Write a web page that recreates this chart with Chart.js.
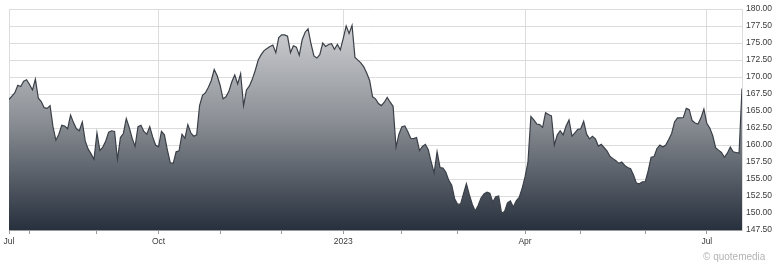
<!DOCTYPE html>
<html lang="en">
<head>
    <meta charset="UTF-8">
    <title>Price Chart</title>
    <script src="https://cdn.jsdelivr.net/npm/chart.js"></script>
    <style>
        body {
            margin: 0;
            background: #ffffff;
        }
        .wrap {
            position: relative;
            width: 780px;
            height: 266px;
        }
        /* watermark bottom right */
        .credit {
            position: absolute;
            left: 703px;
            top: 251px;
            font-family: "Liberation Sans", Arial, sans-serif;
            font-size: 10px;
            color: #b4b4b4;
        }
    </style>
</head>
<body>

<div class="wrap">
    <canvas id="priceChart" width="780" height="266"></canvas>
    <div class="credit">© quotemedia</div>
</div>

<script>
    // daily closes, Jul 2022 - Jul 2023 (one value per trading day)
    const prices = [
        166.7, 167.2, 167.7, 168.8, 168.6, 169.4, 169.6, 168.9, 168.1, 169.7,
        166.9, 166.4, 165.5, 165.4, 165.8, 162.7, 160.7, 161.6, 162.9, 162.8,
        162.4, 164.4, 163.3, 162.4, 162.1, 163.4, 160.6, 159.4, 158.7, 157.9,
        161.8, 159.2, 159.7, 160.6, 161.9, 162.1, 162.0, 157.9, 161.1, 161.7,
        163.9, 162.6, 161.0, 159.8, 162.7, 162.9, 162.0, 161.6, 162.7, 161.2,
        160.0, 159.75, 162.0, 161.5, 159.3, 157.4, 157.3, 159.0, 159.15, 161.6,
        161.0, 163.0, 161.8, 161.3, 161.5, 165.8, 167.3, 167.7, 168.5, 169.5,
        171.1, 170.2, 168.8, 166.8, 167.1, 167.9, 169.3, 170.3, 169.0, 170.5,
        165.8, 168.1, 168.7, 169.7, 171.0, 172.5, 173.3, 173.9, 174.2, 174.5,
        174.7, 173.6, 175.8, 176.2, 176.2, 176.0, 173.6, 174.6, 174.4, 173.2,
        175.5, 176.6, 177.1, 174.9, 173.1, 172.8, 173.3, 175.0, 174.5, 174.8,
        174.9, 174.1, 174.8, 174.0, 175.7, 177.5, 176.4, 177.6, 172.9, 172.5,
        172.1, 171.5, 170.6, 169.5, 167.1, 166.8, 166.1, 165.8, 166.3, 167.0,
        166.3, 165.7, 159.7, 161.6, 162.7, 162.8, 162.0, 161.0, 160.95, 161.1,
        159.2, 159.8, 160.1, 159.3, 157.5, 155.9, 159.0, 156.7, 156.6, 156.0,
        154.8, 154.1, 152.1, 151.3, 151.3, 152.8, 154.3, 152.7, 151.3, 150.3,
        151.1, 152.2, 152.8, 153.05, 152.9, 151.6, 152.4, 152.5, 150.0, 150.2,
        151.5, 151.8, 150.9, 151.8, 152.3, 153.6, 155.3, 157.5, 164.2, 163.7,
        163.1, 163.0, 162.6, 164.75, 164.5, 164.3, 160.0, 161.5, 162.1, 161.5,
        162.8, 163.7, 161.3, 161.8, 162.3, 162.4, 163.5, 161.6, 160.9, 161.3,
        160.9, 159.85, 160.1, 159.6, 159.1, 158.3, 158.0, 157.7, 157.3, 157.5,
        157.0, 156.7, 156.5, 155.6, 154.4, 154.3, 154.6, 154.6, 156.2, 158.2,
        158.3, 159.5, 160.0, 159.7, 160.0, 160.8, 161.7, 163.4, 164.0, 164.0,
        164.05, 165.4, 165.2, 163.6, 163.25, 163.1, 164.0, 165.3, 163.2, 162.5,
        161.4, 159.6, 159.25, 158.9, 158.2, 158.8, 159.7, 159.0, 158.9, 158.8,
        168.3
    ];

    // month starts, as trading-day index into prices
    const monthStarts = [0, 7, 30, 51, 72, 93, 114, 134, 153, 176, 195, 217, 238];
    const monthLabels = ['Jul', '', '', 'Oct', '', '', '2023', '', '', 'Apr', '', '', 'Jul'];

    const yMin = 147.5;
    const yMax = 180;
    const yStep = 2.5;

    const labelFont = { family: '"Liberation Sans", Arial, sans-serif', size: 8.5 };

    let points = prices.map((p, i) => ({ x: i, y: p }));

    function isMajor(ctx) {
        if (!ctx.tick) return false;
        let k = monthStarts.indexOf(ctx.tick.value);
        return k >= 0 && monthLabels[k] !== '';
    }

    let ctx = document.getElementById('priceChart').getContext('2d');

    let priceChart = new Chart(ctx, {
        type: 'line',
        data: {
            datasets: [{
                data: points,
                borderColor: '#3b4048',
                borderWidth: 1.2,
                pointRadius: 0,
                tension: 0,
                fill: 'start',
                backgroundColor: function(context) {
                    let area = context.chart.chartArea;
                    if (!area) return '#888';
                    let g = context.chart.ctx.createLinearGradient(0, area.top, 0, area.bottom);
                    g.addColorStop(0, '#d9dadc');
                    g.addColorStop(0.5, '#8c9096');
                    g.addColorStop(1, '#27303d');
                    return g;
                }
            }]
        },
        options: {
            responsive: false,
            animation: false,
            layout: { padding: { left: 9, top: 8, right: 0, bottom: 0 } },
            plugins: {
                legend: { display: false },
                tooltip: { enabled: false }
            },
            scales: {
                x: {
                    type: 'linear',
                    min: 0,
                    max: prices.length - 1,
                    afterBuildTicks: function(scale) {
                        scale.ticks = monthStarts.map(v => ({ value: v }));
                    },
                    afterFit: function(scale) {
                        scale.height = 36;
                        scale.paddingLeft = 0;
                        scale.paddingRight = 0;
                    },
                    ticks: {
                        autoSkip: false,
                        maxRotation: 0,
                        padding: 3,
                        color: '#3a3a3a',
                        font: labelFont,
                        callback: function(value) {
                            let k = monthStarts.indexOf(value);
                            return k >= 0 ? monthLabels[k] : '';
                        }
                    },
                    grid: {
                        color: c => isMajor(c) ? '#dcdcdc' : 'rgba(0,0,0,0)',
                        tickColor: '#9a9a9a',
                        tickLength: 4,
                        lineWidth: 1
                    },
                    border: { color: '#9a9a9a', width: 1 }
                },
                y: {
                    position: 'right',
                    min: yMin,
                    max: yMax,
                    afterFit: function(scale) {
                        scale.width = 38;
                    },
                    ticks: {
                        stepSize: yStep,
                        padding: 4,
                        color: '#3a3a3a',
                        font: labelFont,
                        callback: v => v.toFixed(2)
                    },
                    grid: {
                        color: '#dcdcdc',
                        drawTicks: false,
                        lineWidth: 1
                    },
                    border: { color: '#dcdcdc', width: 1 }
                }
            }
        }
    });
</script>

</body>
</html>
